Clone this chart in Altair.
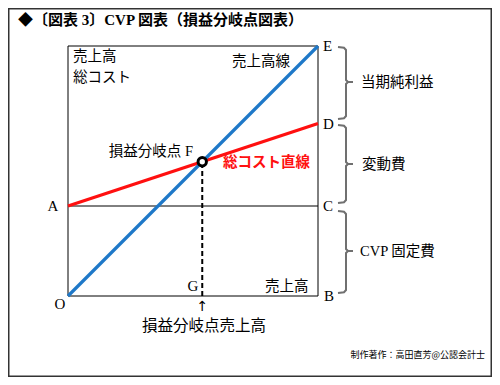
import altair as alt
import pandas as pd

# ---- data (chart units: plot box is 0..100 on both axes) ----
sales_x = [0, 100]
sales_y = [0, 100]
cost_x = [0, 100]
cost_y = [36, 69]
fixed_cost = 36
bep_x = 53.7
bep_y = 53.7

# point letters
letters = ["A", "C", "D", "E", "B", "O", "G"]
letter_x = [-6, 102, 102, 102, 102.4, -3.2, 50]
letter_y = [36, 36, 68.8, 100, 0, -3.2, 4]
letter_align = ["center", "left", "left", "left", "left", "center", "center"]

# brace ranges (top, bottom, tip) and labels
brace_top = [99.6, 68.4, 34.0]
brace_bottom = [70.8, 37.2, 1.2]
brace_tip = [85.6, 52.8, 18.0]
brace_labels = ["当期純利益", "変動費", "CVP 固定費"]

title_text = "◆〔図表 3〕CVP 図表（損益分岐点図表）"
credit_text = "制作著作：高田直芳@公認会計士"

W, H = 484, 369
xs = alt.Scale(domain=[-24, 169.6], range=[0, W], zero=False, nice=False)
ys = alt.Scale(domain=[-32.4, 115.2], range=[H, 0], zero=False, nice=False)
X = lambda f: alt.X(f, type="quantitative", scale=xs, axis=None)
Y = lambda f: alt.Y(f, type="quantitative", scale=ys, axis=None)

JP = "Noto Sans CJK JP"
MIX = "Liberation Serif, Noto Sans CJK JP"

# outer frame
frame = alt.Chart(pd.DataFrame({"a": [0]})).mark_rect(
    fill=None, stroke="#333333", strokeWidth=1.5
).encode(x=alt.value(0.75), x2=alt.value(W - 0.75), y=alt.value(0.75), y2=alt.value(H - 0.75))

# plot box
box = alt.Chart(pd.DataFrame({"x": [0], "x2": [100], "y": [0], "y2": [100]})).mark_rect(
    fill=None, stroke="black", strokeWidth=1
).encode(x=X("x"), x2="x2", y=Y("y"), y2="y2")

# fixed cost line A-C
fixed = alt.Chart(pd.DataFrame({"x": [0], "x2": [100], "y": [fixed_cost]})).mark_rule(
    color="black", strokeWidth=1
).encode(x=X("x"), x2="x2", y=Y("y"))

# dashed line from F to G
dashed = alt.Chart(pd.DataFrame({"x": [bep_x], "y": [0], "y2": [bep_y]})).mark_rule(
    color="black", strokeWidth=2, strokeDash=[5, 3]
).encode(x=X("x"), y=Y("y"), y2="y2")

cost_line = alt.Chart(pd.DataFrame({"x": cost_x, "y": cost_y})).mark_line(
    color="#FF1010", strokeWidth=3.2
).encode(x=X("x"), y=Y("y"))

sales_line = alt.Chart(pd.DataFrame({"x": sales_x, "y": sales_y})).mark_line(
    color="#1E78C8", strokeWidth=3.2
).encode(x=X("x"), y=Y("y"))

bep_pt = alt.Chart(pd.DataFrame({"x": [bep_x], "y": [bep_y]})).mark_point(
    shape="circle", filled=True, fill="white", stroke="black", strokeWidth=3, size=70, opacity=1
).encode(x=X("x"), y=Y("y"))

# braces
rows = []
for i, (t, b, m) in enumerate(zip(brace_top, brace_bottom, brace_tip)):
    pts = [(108, t), (110.4, t - 0.3), (111.2, t - 1.2), (111.2, m + 0.8), (112.0, m),
           (114.0, m), (112.0, m), (111.2, m - 0.8), (111.2, b + 1.2), (110.4, b + 0.3), (108, b)]
    for k, (px, py) in enumerate(pts):
        rows.append({"g": i, "o": k, "x": px, "y": py})
braces = alt.Chart(pd.DataFrame(rows)).mark_line(color="#707070", strokeWidth=2).encode(
    x=X("x"), y=Y("y"), detail="g:N", order="o:Q"
)

brace_text = alt.Chart(pd.DataFrame({
    "x": [117.2, 117.6, 116.8], "y": [85.2, 52.4, 17.6], "t": brace_labels
})).mark_text(align="left", baseline="middle", font=MIX, fontSize=14.5, color="black").encode(
    x=X("x"), y=Y("y"), text="t"
)

letter_layers = []
for al in ["left", "center"]:
    d = pd.DataFrame({"x": letter_x, "y": letter_y, "t": letters, "a": letter_align})
    d = d[d.a == al]
    letter_layers.append(alt.Chart(d).mark_text(
        align=al, baseline="middle", font="Liberation Serif", fontSize=15, color="black"
    ).encode(x=X("x"), y=Y("y"), text="t"))

jp_labels = alt.Chart(pd.DataFrame({
    "x": [2, 2, 65.6, 78.8],
    "y": [95.8, 87.4, 93.6, 3.6],
    "t": ["売上高", "総コスト", "売上高線", "売上高"],
})).mark_text(align="left", baseline="middle", font=JP, fontSize=14.5, color="black").encode(
    x=X("x"), y=Y("y"), text="t"
)

f_label = alt.Chart(pd.DataFrame({"x": [50], "y": [57.6], "t": ["損益分岐点 F"]})).mark_text(
    align="right", baseline="middle", font=MIX, fontSize=14.5, color="black"
).encode(x=X("x"), y=Y("y"), text="t")

cost_label = alt.Chart(pd.DataFrame({"x": [62], "y": [53.2], "t": ["総コスト直線"]})).mark_text(
    align="left", baseline="middle", font=JP, fontSize=14.5, fontWeight="bold", color="#FF1010"
).encode(x=X("x"), y=Y("y"), text="t")

arrow = alt.Chart(pd.DataFrame({"x": [bep_x], "y": [-4.2], "t": ["↑"]})).mark_text(
    align="center", baseline="middle", font="DejaVu Sans", fontSize=14, color="black"
).encode(x=X("x"), y=Y("y"), text="t")

bep_sales = alt.Chart(pd.DataFrame({"x": [54.4], "y": [-12], "t": ["損益分岐点売上高"]})).mark_text(
    align="center", baseline="middle", font=JP, fontSize=15.5, color="black"
).encode(x=X("x"), y=Y("y"), text="t")

title = alt.Chart(pd.DataFrame({"x": [-20], "y": [110.4], "t": [title_text]})).mark_text(
    align="left", baseline="middle", font=MIX, fontSize=15, fontWeight="bold", color="black"
).encode(x=X("x"), y=Y("y"), text="t")

credit = alt.Chart(pd.DataFrame({"x": [166.8], "y": [-23.6], "t": [credit_text]})).mark_text(
    align="right", baseline="middle", font=JP, fontSize=9, color="black"
).encode(x=X("x"), y=Y("y"), text="t")

chart = alt.layer(
    frame, box, fixed, dashed, cost_line, sales_line, bep_pt, braces, brace_text,
    *letter_layers, jp_labels, f_label, cost_label, arrow, bep_sales, title, credit
).properties(
    width=W, height=H, autosize=alt.AutoSizeParams(type="none"), padding=0,
    background="white"
).configure_view(stroke=None)

chart.save("out.html", embed_options={"renderer": "svg", "actions": False})
